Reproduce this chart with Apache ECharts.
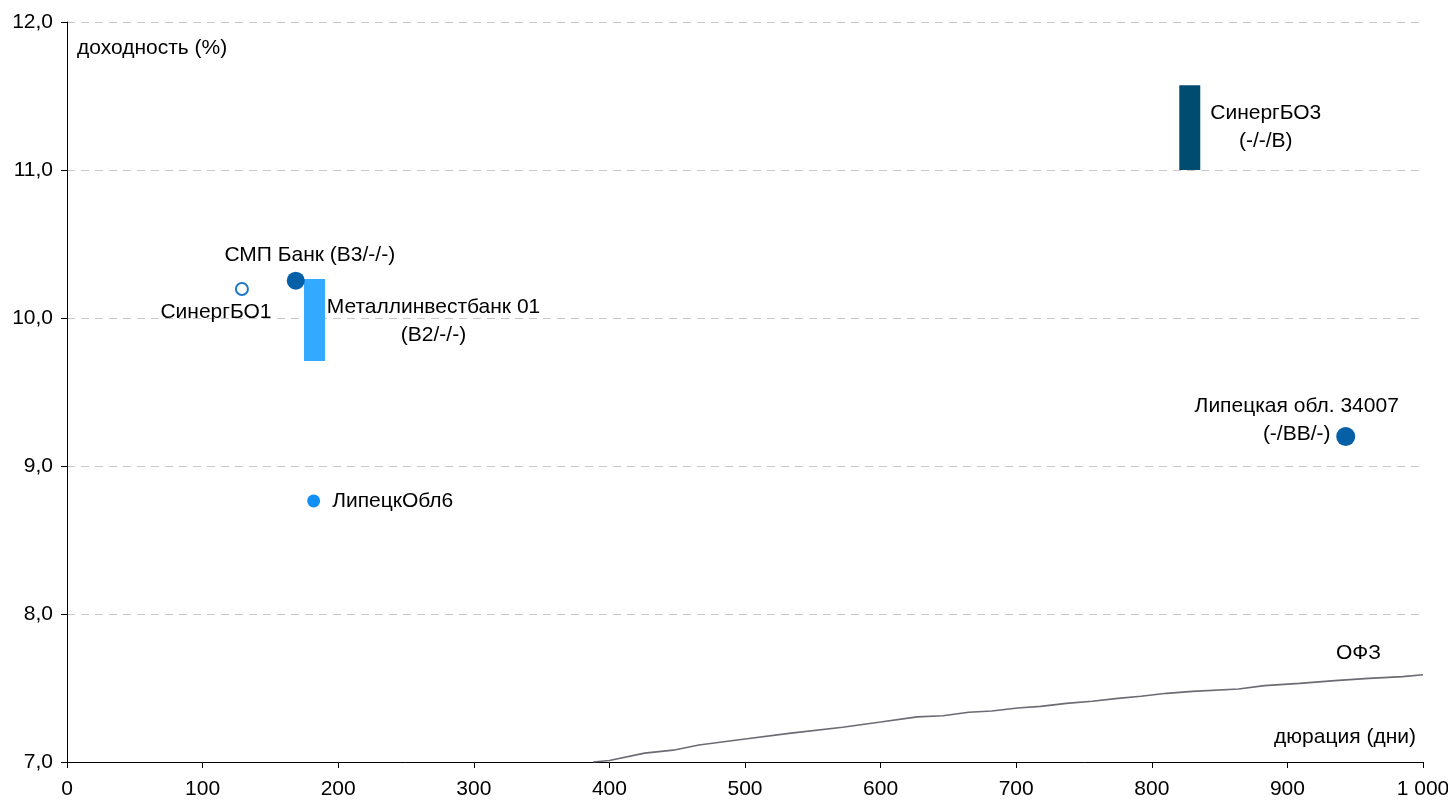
<!DOCTYPE html>
<html>
<head>
<meta charset="utf-8">
<script src="https://cdn.jsdelivr.net/npm/echarts@6/dist/echarts.min.js"></script>
<style>
html,body{margin:0;padding:0;background:#fff;}
#chart{width:1448px;height:801px;}
</style>
</head>
<body>
<div id="chart"></div>
<script>
// ---------- data ----------
const ofzDuration = [388, 400, 426, 447, 466, 500, 534, 572, 600, 627, 646, 665, 682, 701, 718, 737, 756, 775, 792, 811, 830, 864, 883, 909, 935, 960, 985, 1000];
const ofzYield    = [7.00, 7.01, 7.06, 7.08, 7.115, 7.155, 7.195, 7.235, 7.27, 7.305, 7.313, 7.336, 7.345, 7.365, 7.376, 7.396, 7.41, 7.43, 7.444, 7.464, 7.477, 7.493, 7.516, 7.531, 7.55, 7.565, 7.577, 7.59];
const ofzName = 'ОФЗ';

const pointNames    = ['СинергБО1', 'СМП Банк (B3/-/-)', 'ЛипецкОбл6', 'Липецкая обл. 34007\n(-/BB/-)'];
const pointDuration = [129, 168.7, 181.9, 943];
const pointYield    = [10.196, 10.252, 8.764, 9.199];

const rangeNames    = ['Металлинвестбанк 01\n(B2/-/-)', 'СинергБО3\n(-/-/B)'];
const rangeDuration = [182.5, 828];
const rangeLow      = [9.71, 11.0];
const rangeHigh     = [10.264, 11.573];

const xTickLabels = ['0','100','200','300','400','500','600','700','800','900','1 000'];
const yTickLabels = ['7,0','8,0','9,0','10,0','11,0','12,0'];
const xAxisTitle = 'дюрация (дни)';
const yAxisTitle = 'доходность (%)';

// ---------- styles ----------
const FONT = '"Liberation Sans", Arial, sans-serif';
const FS = 21;
const pointStyles = [
  {symbol:'emptyCircle', size:12, color:'#1f78c8', border:1.5, labelPos:'inside', offset:[-26,23]},
  {symbol:'circle', size:18, color:'#0560a8', labelPos:'inside', offset:[14,-26]},
  {symbol:'circle', size:13, color:'#1090f5', labelPos:'right', distance:12, offset:[0,0]},
  {symbol:'circle', size:19, color:'#0560a8', labelPos:'inside', offset:[-49,-16.5]}
];
const rangeStyles = [
  {color:'#33aaff', width:21, offset:[119,1]},
  {color:'#004c70', width:21, offset:[76,-0.5]}
];

const chart = echarts.init(document.getElementById('chart'), null, {renderer:'canvas'});

const series = [];
series.push({
  type:'line',
  name: ofzName,
  data: ofzDuration.map((d,i)=>[d, ofzYield[i]]),
  showSymbol:false,
  symbol:'none',
  lineStyle:{color:'#6e6a72', width:1.6},
  silent:true,
  z:2,
  markPoint:{
    symbol:'circle', symbolSize:0,
    data:[{coord:[ofzDuration[ofzDuration.length-1], ofzYield[ofzYield.length-1]]}],
    label:{show:true, position:'inside', offset:[-64.5,-21.5], formatter: ofzName, color:'#000', fontSize:FS, fontFamily:FONT}
  }
});

pointNames.forEach((nm,i)=>{
  const st = pointStyles[i];
  series.push({
    type:'scatter',
    name:nm,
    data:[[pointDuration[i], pointYield[i]]],
    symbol: st.symbol,
    symbolSize: st.size,
    itemStyle: st.symbol==='emptyCircle' ? {color:st.color, borderColor:st.color, borderWidth:st.border, opacity:1} : {color:st.color, opacity:1},
    z:5,
    label:{
      show:true, position: st.labelPos, offset: st.offset, distance: st.distance||5, opacity:1,
      formatter: nm, color:'#000', fontSize:FS, fontFamily:FONT, lineHeight:28, align: st.labelPos==='right' ? 'left':'center'
    }
  });
});

series.push({
  type:'custom',
  name:'ranges',
  data: rangeDuration.map((d,i)=>[d, rangeLow[i], rangeHigh[i], i]),
  encode:{x:0, y:[1,2]},
  z:4,
  renderItem:function(params, api){
    const idx = api.value(3);
    const st = rangeStyles[idx];
    const top = api.coord([api.value(0), api.value(2)]);
    const bot = api.coord([api.value(0), api.value(1)]);
    return {
      type:'group',
      children:[
        {type:'rect', shape:{x: top[0]-st.width/2, y: top[1], width: st.width, height: bot[1]-top[1]}, style:{fill: st.color}},
        {type:'text', x: top[0]+st.offset[0], y:(top[1]+bot[1])/2+st.offset[1],
         style:{text: rangeNames[idx], align:'center', verticalAlign:'middle', fontSize:FS, fontFamily:FONT, lineHeight:28, fill:'#000'}}
      ]
    };
  }
});

const option = {
  animation:false,
  backgroundColor:'#fff',
  grid:{left:67, right:25, top:22, bottom:39, containLabel:false, outerBoundsMode:'none'},
  xAxis:{
    type:'value', min:0, max:1000, interval:100,
    name: xAxisTitle, nameLocation:'end', nameGap:-7,
    nameTextStyle:{align:'right', verticalAlign:'bottom', padding:[0,0,14,0], fontSize:FS, fontFamily:FONT, color:'#000'},
    axisLine:{show:true, onZero:false, lineStyle:{color:'#000', width:1}},
    axisTick:{show:true, length:6, lineStyle:{color:'#000'}},
    axisLabel:{margin:17, fontSize:FS, fontFamily:FONT, color:'#000',
      formatter:function(v){ return xTickLabels[Math.round(v/100)]; }},
    splitLine:{show:false}
  },
  yAxis:{
    type:'value', min:7, max:12, interval:1,
    name: yAxisTitle, nameLocation:'end', nameGap:-26,
    nameTextStyle:{align:'left', verticalAlign:'middle', padding:[0,0,0,10], fontSize:FS, fontFamily:FONT, color:'#000'},
    axisLine:{show:true, onZero:false, lineStyle:{color:'#000', width:1}},
    axisTick:{show:true, length:6, lineStyle:{color:'#000'}},
    axisLabel:{margin:14, fontSize:FS, fontFamily:FONT, color:'#000',
      formatter:function(v){ return yTickLabels[Math.round(v-7)]; }},
    splitLine:{show:true, lineStyle:{color:'#c8c8c8', type:[8,6], width:1}}
  },
  series: series
};
chart.setOption(option);
</script>
</body>
</html>
